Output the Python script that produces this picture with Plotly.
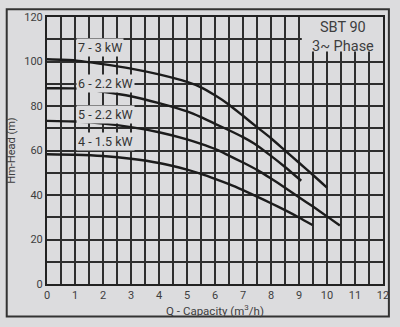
import plotly.graph_objects as go

# Pump performance curves: capacity Q (m3/h) vs. head H (m)
q_7 = [0, 1, 2, 3, 4, 5, 5.5, 6, 6.5, 7, 7.5, 8, 8.5, 9, 9.5, 10]
h_7 = [101, 100.5, 98.8, 96.8, 94.2, 90.8, 88.4, 84.8, 80.6, 75.6, 70.5, 65.5, 60, 54.5, 49, 43.3]

q_6 = [0, 1, 1.6, 2, 3, 4, 5, 5.5, 6, 6.5, 7, 7.5, 8, 8.5, 9.08]
h_6 = [88, 87.9, 87, 86.4, 84.4, 81.3, 77.6, 75, 72, 69.1, 66, 62.3, 57.6, 52.6, 46.4]

q_5 = [0, 1, 2, 3, 4, 5, 5.5, 6, 6.5, 7, 7.5, 8, 8.5, 9, 9.5, 10, 10.46]
h_5 = [73.3, 73, 72.1, 70.5, 68.2, 65, 63, 60.7, 57.7, 54.6, 51.3, 47.4, 43.3, 39, 34.8, 30.4, 26.3]

q_4 = [0, 1, 2, 3, 4, 5, 5.5, 6, 6.5, 7, 7.5, 8, 8.5, 9, 9.48]
h_4 = [58.3, 58.1, 57.5, 56.3, 54.4, 51.4, 49.5, 47.3, 44.9, 42.2, 39.3, 36.3, 33.2, 29.9, 26.5]

curve_labels = ["7 - 3 kW", "6 - 2.2 kW", "5 - 2.2 kW", "4 - 1.5 kW"]
label_heads = [106.5, 90.1, 76.4, 64.0]
label_q = 1.05

model_lines = ["SBT 90", "3~ Phase"]
model_heads = [115.4, 106.9]
model_q = 10.58

x_ticks = list(range(0, 13))
y_ticks = list(range(0, 121, 20))

BG = "#dcdcde"
INK = "#1c1c1c"
GRID = "#2e2e2e"
TXT = "#3e3e3e"
FONT = "Roboto"

W, H = 400, 327
ML, MR, MT, MB = 44, 14, 11, 36

fig = go.Figure()
for q, h in [(q_7, h_7), (q_6, h_6), (q_5, h_5), (q_4, h_4)]:
    fig.add_trace(go.Scatter(
        x=q, y=h, mode="lines",
        line=dict(color=INK, width=2.4, shape="spline", smoothing=0.6),
        hoverinfo="skip", showlegend=False,
    ))

annotations = []
for text, y in zip(curve_labels, label_heads):
    annotations.append(dict(
        x=label_q, y=y, xref="x", yref="y", text=text, showarrow=False,
        xanchor="left", yanchor="middle",
        font=dict(family=FONT, size=12.5, color="#333333"),
        bgcolor=BG, borderpad=1,
    ))
for text, y in zip(model_lines, model_heads):
    annotations.append(dict(
        x=model_q, y=y, xref="x", yref="y", text=text, showarrow=False,
        xanchor="center", yanchor="middle",
        font=dict(family=FONT, size=14.5, color=TXT),
    ))

pw = W - ML - MR
ph = H - MT - MB
shapes = [
    # panel behind the model name, hiding the grid there
    dict(type="rect", xref="x", yref="y", x0=9.1, x1=12, y0=104.5, y1=120,
         fillcolor=BG, line=dict(width=0), layer="between"),
    # outer frame around the whole chart
    dict(type="rect", xref="paper", yref="paper",
         x0=(3 - ML) / pw, x1=(392 - ML) / pw,
         y0=(H - MB - 325) / ph, y1=(H - MB - 3) / ph,
         line=dict(color="#333333", width=2), fillcolor="rgba(0,0,0,0)",
         layer="above"),
]

fig.update_layout(
    width=W, height=H,
    margin=dict(l=ML, r=MR, t=MT, b=MB),
    paper_bgcolor=BG, plot_bgcolor=BG,
    font=dict(family=FONT, color=TXT),
    annotations=annotations, shapes=shapes,
    showlegend=False,
)
fig.update_xaxes(
    range=[0, 12], tickvals=x_ticks, ticktext=[str(v) for v in x_ticks],
    showgrid=True, gridcolor=GRID, gridwidth=1.5,
    minor=dict(dtick=0.5, showgrid=True, gridcolor=GRID, gridwidth=1.5),
    showline=True, linecolor="#222222", linewidth=2, mirror=True,
    ticks="", zeroline=False,
    tickfont=dict(family=FONT, size=11, color=TXT),
    title=dict(text="Q - Capacity (m<sup>3</sup>/h)", standoff=6,
               font=dict(family=FONT, size=11.5, color=TXT)),
)
fig.update_yaxes(
    range=[0, 120], tickvals=y_ticks, ticktext=[str(v) for v in y_ticks],
    showgrid=True, gridcolor=GRID, gridwidth=1.5,
    minor=dict(dtick=10, showgrid=True, gridcolor=GRID, gridwidth=1.5),
    showline=True, linecolor="#222222", linewidth=2, mirror=True,
    ticks="", zeroline=False,
    tickfont=dict(family=FONT, size=11, color=TXT),
    title=dict(text="Hm-Head (m)", standoff=6,
               font=dict(family=FONT, size=11, color=TXT)),
)

fig.write_html("out.html")
